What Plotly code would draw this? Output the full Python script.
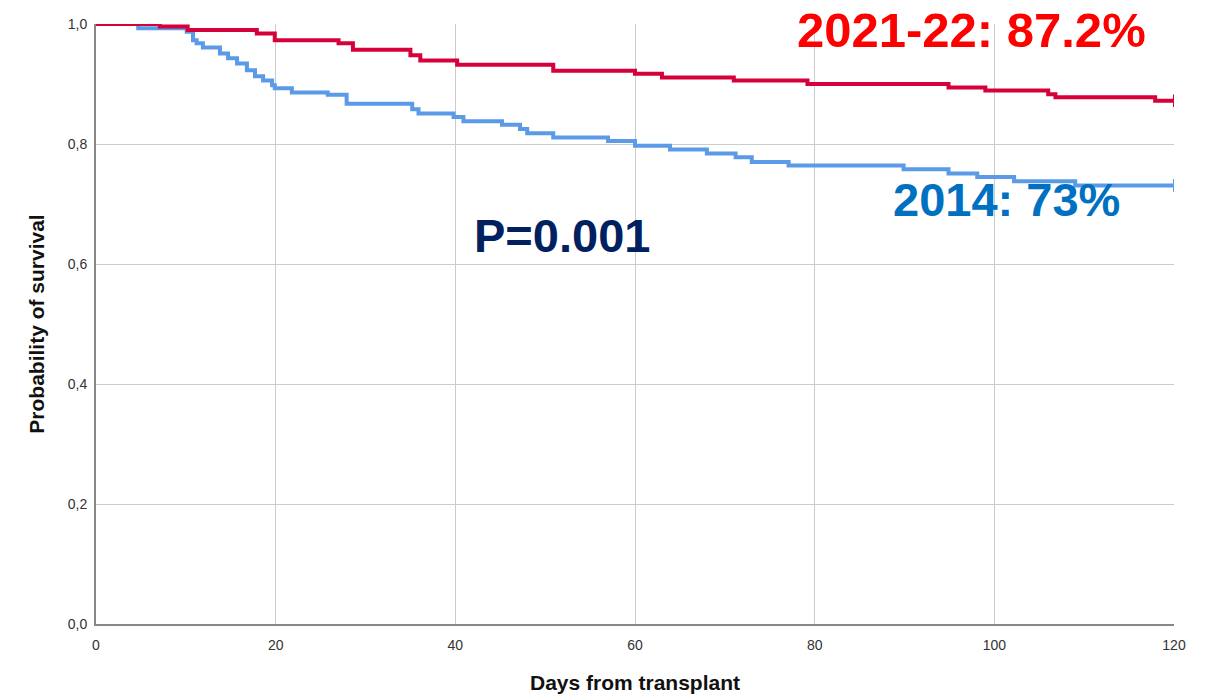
import plotly.graph_objects as go

# Kaplan-Meier step points: days from transplant and survival probability
days_2021 = [0, 7.1, 10.2, 17.9, 19.9, 27, 28.6, 35.0, 36.1, 40.2, 50.9, 60, 63,
             71, 79.2, 94.9, 99, 106, 106.8, 117.9, 120]
surv_2021 = [1.0, 0.996, 0.990, 0.984, 0.973, 0.968, 0.957, 0.948, 0.939, 0.932,
             0.922, 0.917, 0.911, 0.906, 0.900, 0.894, 0.889, 0.883, 0.878, 0.872, 0.872]

days_2014 = [0, 4.7, 10.1, 10.8, 11.2, 11.9, 13.8, 14.7, 15.7, 16.8, 17.7, 18.6,
             19.6, 19.9, 21.8, 25.8, 27.9, 35.2, 35.9, 39.8, 40.9, 45.2, 47.2, 48,
             50.9, 57, 60, 63.9, 68, 71.2, 73, 77.1, 89.9, 94.9, 98.1, 102.2, 109, 120]
surv_2014 = [1.0, 0.993, 0.987, 0.973, 0.968, 0.961, 0.951, 0.943, 0.934, 0.923,
             0.913, 0.906, 0.898, 0.893, 0.886, 0.882, 0.867, 0.858, 0.851, 0.845,
             0.838, 0.832, 0.825, 0.818, 0.811, 0.805, 0.797, 0.791, 0.784, 0.778,
             0.770, 0.764, 0.758, 0.751, 0.745, 0.738, 0.731, 0.731]

x_ticks = [0, 20, 40, 60, 80, 100, 120]
y_ticks = [0.0, 0.2, 0.4, 0.6, 0.8, 1.0]
y_tick_text = ["0,0", "0,2", "0,4", "0,6", "0,8", "1,0"]

RED = "#D6003A"
BLUE = "#5A9AE6"

fig = go.Figure()

for days, surv, color in [(days_2014, surv_2014, BLUE), (days_2021, surv_2021, RED)]:
    fig.add_trace(go.Scatter(
        x=days, y=surv, mode="lines", line=dict(color=color, width=4, shape="hv"),
        hoverinfo="skip", showlegend=False))
    # censoring tick at the end of follow-up
    fig.add_trace(go.Scatter(
        x=[days[-1]], y=[surv[-1]], mode="markers",
        marker=dict(symbol="line-ns", size=9, line=dict(color=color, width=2)),
        hoverinfo="skip", showlegend=False))

fig.add_annotation(x=97.5, y=0.99, text="<b>2021-22: 87.2%</b>", showarrow=False,
                   font=dict(family="Liberation Sans, Arial", size=49, color="#FF0000"))
fig.add_annotation(x=101.3, y=0.707, text="<b>2014: 73%</b>", showarrow=False,
                   font=dict(family="Liberation Sans, Arial", size=47, color="#0070C0"))
fig.add_annotation(x=51.9, y=0.647, text="<b>P=0.001</b>", showarrow=False,
                   font=dict(family="Liberation Sans, Arial", size=47, color="#002060"))

fig.update_layout(
    width=1209, height=696,
    margin=dict(l=96, r=35, t=24, b=72),
    paper_bgcolor="white", plot_bgcolor="white",
    font=dict(family="Liberation Sans, Arial", color="#222"),
)
fig.update_xaxes(
    range=[0, 120], tickvals=x_ticks, ticks="", showgrid=True, gridcolor="#CCCCCC",
    gridwidth=1, showline=True, linecolor="#888888", linewidth=2, zeroline=False,
    tickfont=dict(size=14, color="#333"), ticklabelstandoff=7, automargin=False,
    title=dict(text="<b>Days from transplant</b>", font=dict(size=21, color="#111"), standoff=24),
)
fig.update_yaxes(
    range=[0, 1], tickvals=y_ticks, ticktext=y_tick_text, ticks="", showgrid=True,
    gridcolor="#CCCCCC", gridwidth=1, showline=True, linecolor="#888888", linewidth=2,
    zeroline=False, tickfont=dict(size=14, color="#333"), ticklabelstandoff=4,
    automargin=False,
    title=dict(text="<b>Probability of survival</b>", font=dict(size=21, color="#111"), standoff=17),
)

fig.write_html("out.html")
